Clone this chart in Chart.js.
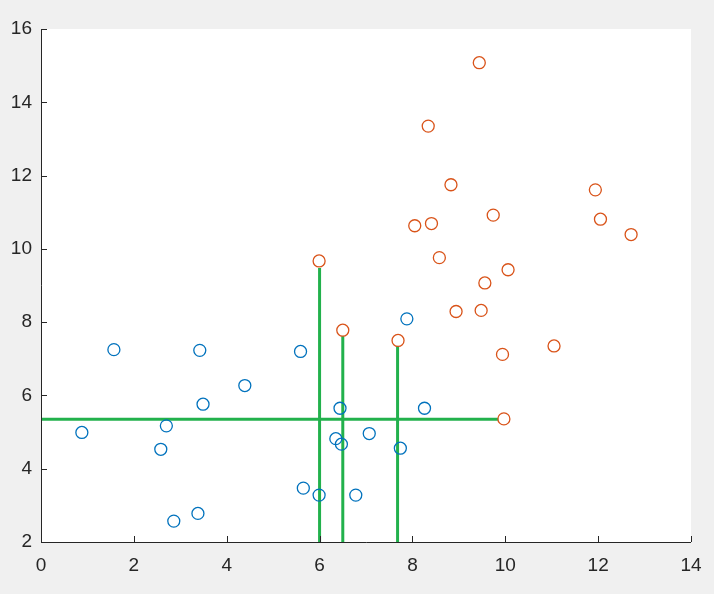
<!DOCTYPE html>
<html>
<head>
<meta charset="utf-8">
<script src="https://cdn.jsdelivr.net/npm/chart.js@4"></script>
<style>
  html, body { margin: 0; padding: 0; background: #f0f0f0; }
  #wrap { width: 714px; height: 594px; }
</style>
</head>
<body>
<div id="wrap"><canvas id="scatterChart" width="714" height="594"></canvas></div>
<script>
// class 1 (blue)
const blueX = [0.88, 1.57, 3.42, 5.59, 4.39, 3.49, 2.70, 2.58, 2.86, 3.38, 5.65, 5.99, 6.78, 6.44, 6.35, 6.47, 7.07, 7.74, 8.26, 7.88];
const blueY = [4.99, 7.25, 7.23, 7.20, 6.27, 5.76, 5.17, 4.53, 2.57, 2.78, 3.47, 3.28, 3.28, 5.65, 4.82, 4.67, 4.96, 4.56, 5.65, 8.09];

// class 2 (orange)
const orangeX = [5.99, 6.50, 7.69, 9.97, 9.94, 11.05, 8.94, 9.48, 9.44, 8.34, 8.83, 8.05, 8.41, 9.74, 11.94, 12.05, 12.71, 8.58, 10.06, 9.56];
const orangeY = [9.67, 7.78, 7.50, 5.36, 7.12, 7.35, 8.29, 8.32, 15.08, 13.35, 11.75, 10.63, 10.69, 10.92, 11.61, 10.81, 10.39, 9.76, 9.43, 9.07];

// split lines (green)
const hLineX = [0, 9.85];
const hLineY = 5.35;
const vLineX = [6.0, 6.5, 7.68];
const vLineTop = [9.48, 7.62, 7.35];
const yFloor = 2;

const xTicks = [0, 2, 4, 6, 8, 10, 12, 14];
const yTicks = [2, 4, 6, 8, 10, 12, 14, 16];

const toPoints = (xs, ys) => xs.map((x, i) => ({ x: x, y: ys[i] }));

const lineStyle = {
    type: 'line',
    borderColor: '#22b14c',
    borderWidth: 3,
    pointRadius: 0,
    fill: false,
    order: 3
};

const datasets = [
    Object.assign({ data: hLineX.map(x => ({ x: x, y: hLineY })) }, lineStyle)
];
vLineX.forEach((x, i) => {
    datasets.push(Object.assign({ data: [{ x: x, y: yFloor }, { x: x, y: vLineTop[i] }] }, lineStyle));
});
datasets.push({
    type: 'scatter',
    data: toPoints(blueX, blueY),
    pointStyle: 'circle',
    pointRadius: 6,
    borderWidth: 1.3,
    borderColor: '#0072bd',
    backgroundColor: 'rgba(0,0,0,0)',
    order: 1
});
datasets.push({
    type: 'scatter',
    data: toPoints(orangeX, orangeY),
    pointStyle: 'circle',
    pointRadius: 6,
    borderWidth: 1.3,
    borderColor: '#d95319',
    backgroundColor: 'rgba(0,0,0,0)',
    order: 1
});

// white axes area on grey figure, plus inward ticks like matlab
const figurePlugin = {
    id: 'figure',
    beforeDraw(chart) {
        const { ctx, chartArea: a } = chart;
        ctx.save();
        ctx.fillStyle = '#f0f0f0';
        ctx.fillRect(0, 0, chart.width, chart.height);
        ctx.fillStyle = '#ffffff';
        ctx.fillRect(a.left, a.top, a.right - a.left, a.bottom - a.top);
        ctx.restore();
    },
    afterDraw(chart) {
        const { ctx, chartArea: a, scales } = chart;
        ctx.save();
        ctx.strokeStyle = '#262626';
        ctx.lineWidth = 1;
        ctx.beginPath();
        ctx.moveTo(a.left + 0.5, a.top);
        ctx.lineTo(a.left + 0.5, a.bottom + 0.5);
        ctx.lineTo(a.right, a.bottom + 0.5);
        xTicks.forEach(v => {
            const px = Math.round(scales.x.getPixelForValue(v)) + 0.5;
            ctx.moveTo(px, a.bottom);
            ctx.lineTo(px, a.bottom - 6);
        });
        yTicks.forEach(v => {
            const py = Math.round(scales.y.getPixelForValue(v)) + 0.5;
            ctx.moveTo(a.left, py);
            ctx.lineTo(a.left + 6, py);
        });
        ctx.stroke();
        ctx.restore();
    }
};

const tickFont = { family: '"Liberation Sans", Arial, sans-serif', size: 19 };

new Chart(document.getElementById('scatterChart').getContext('2d'), {
    type: 'scatter',
    data: { datasets: datasets },
    options: {
        responsive: false,
        animation: false,
        layout: { padding: { left: 0, right: 23, top: 29, bottom: 0 } },
        plugins: { legend: { display: false }, tooltip: { enabled: false } },
        scales: {
            x: {
                type: 'linear',
                min: 0,
                max: 14,
                grid: { display: false, drawTicks: false },
                border: { display: false },
                afterBuildTicks: s => { s.ticks = xTicks.map(v => ({ value: v })); },
                afterFit: s => { s.height = 52; },
                ticks: { color: '#262626', font: tickFont, padding: 12, maxRotation: 0 }
            },
            y: {
                type: 'linear',
                min: 2,
                max: 16,
                grid: { display: false, drawTicks: false },
                border: { display: false },
                afterBuildTicks: s => { s.ticks = yTicks.map(v => ({ value: v })); },
                afterFit: s => { s.width = 41; },
                ticks: { color: '#262626', font: tickFont, padding: 9 }
            }
        }
    },
    plugins: [figurePlugin]
});
</script>
</body>
</html>
